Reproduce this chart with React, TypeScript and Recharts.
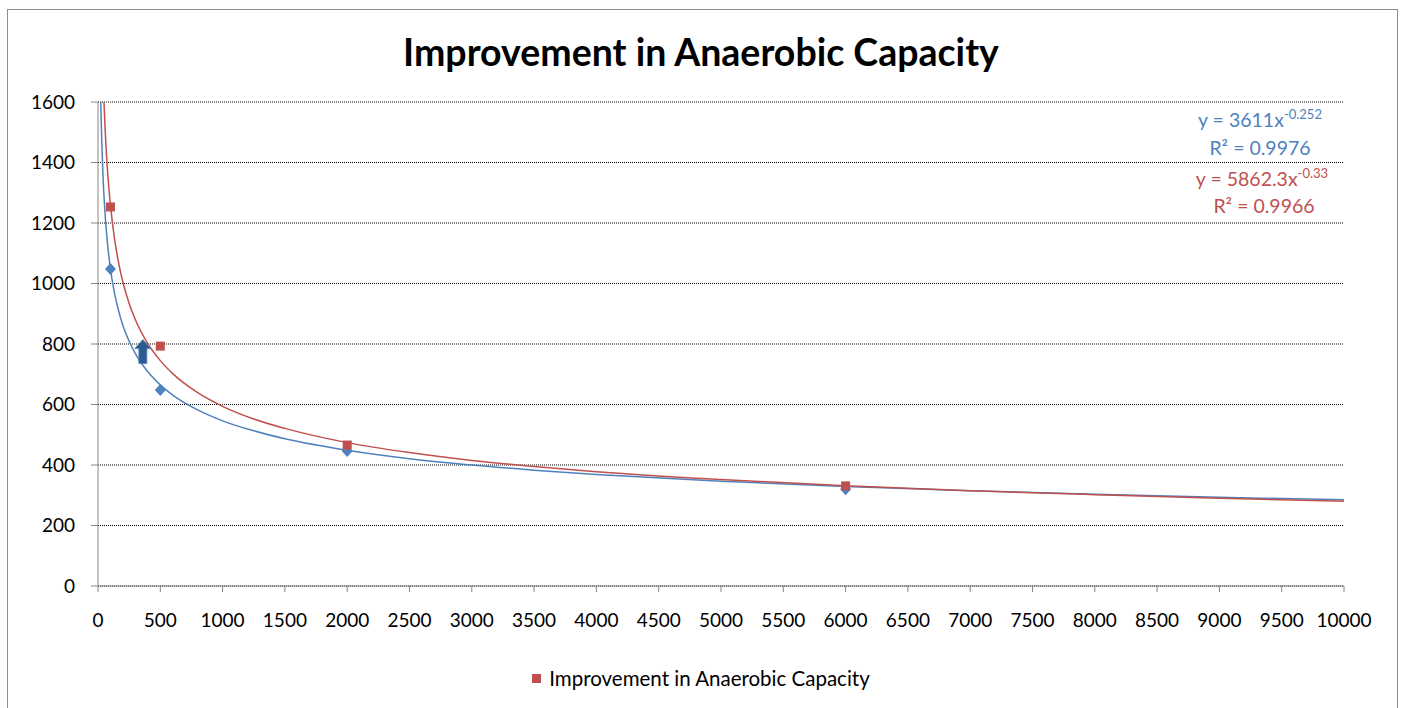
import React from "react";
import { ScatterChart, Scatter, XAxis, YAxis, CartesianGrid, Legend, Customized } from "recharts";

const xTicks = [0, 500, 1000, 1500, 2000, 2500, 3000, 3500, 4000, 4500, 5000, 5500, 6000, 6500, 7000, 7500, 8000, 8500, 9000, 9500, 10000];
const yTicks = [0, 200, 400, 600, 800, 1000, 1200, 1400, 1600];

// measured points
const blueX = [100, 500, 2000, 6000];
const blueY = [1048, 648, 446, 320];
const redX = [100, 500, 2000, 6000];
const redY = [1253, 793, 466, 331];
const arrowX = [360];
const arrowY = [775];

// trendlines
const blueFitX = [22, 25, 30, 40, 50, 60, 80, 100, 130, 160, 200, 250, 300, 400, 500, 600, 800, 1000, 1250, 1500, 2000, 2500, 3000, 3500, 4000, 5000, 6000, 7000, 8000, 9000, 10000];
const blueFitY = [1600, 1551, 1473, 1358, 1275, 1211, 1116, 1048, 973, 918, 861, 809, 768, 708, 665, 631, 582, 546, 513, 487, 449, 421, 400, 383, 369, 346, 329, 315, 303, 293, 285];
const redFitX = [48, 55, 65, 80, 100, 130, 160, 200, 250, 300, 400, 500, 600, 800, 1000, 1250, 1500, 2000, 2500, 3000, 3500, 4000, 5000, 6000, 7000, 8000, 9000, 10000];
const redFitY = [1600, 1530, 1448, 1353, 1259, 1155, 1080, 1004, 934, 880, 801, 745, 702, 639, 594, 552, 521, 474, 441, 415, 395, 378, 352, 331, 315, 302, 290, 280];

const BLUE = "#4f81bd";
const RED = "#c0504d";
const FONT = "Lato, 'Open Sans', sans-serif";

const pts = (xs: number[], ys: number[]) => xs.map((x, i) => ({ x, y: ys[i] }));

const Diamond = (p: any) => (
  <polygon points={`${p.cx},${p.cy - 6} ${p.cx + 5.5},${p.cy} ${p.cx},${p.cy + 6} ${p.cx - 5.5},${p.cy}`} fill={BLUE} />
);
const Square = (p: any) => <rect x={p.cx - 4.5} y={p.cy - 4.5} width={9} height={9} fill={RED} />;
const Arrow = (p: any) => {
  const { cx, cy } = p;
  const d = `M${cx},${cy - 12} L${cx + 8},${cy - 3} L${cx + 4},${cy - 3} L${cx + 4},${cy + 12} L${cx - 4},${cy + 12} L${cx - 4},${cy - 3} L${cx - 8},${cy - 3} Z`;
  return <path d={d} fill="#2e5b8f" stroke="#4f81bd" strokeWidth={0.8} />;
};
const NoDot = () => <g />;

const FitLabels = () => (
  <g fontFamily={FONT} fontSize={19.5} textAnchor="middle">
    <text x={1260} y={127} fill={BLUE}>
      y = 3611x<tspan dy={-8} fontSize={13}>-0.252</tspan>
    </text>
    <text x={1260} y={155} fill={BLUE}>R² = 0.9976</text>
    <text x={1262} y={186} fill={RED}>
      y = 5862.3x<tspan dy={-8} fontSize={13}>-0.33</tspan>
    </text>
    <text x={1264} y={213} fill={RED}>R² = 0.9966</text>
  </g>
);

const LegendBox = () => (
  <div style={{ display: "flex", justifyContent: "center", alignItems: "center", fontFamily: FONT, fontSize: 20.5, color: "#000" }}>
    <span style={{ width: 9, height: 9, background: RED, marginRight: 8, display: "inline-block" }} />
    <span>Improvement in Anaerobic Capacity</span>
  </div>
);

export default function App() {
  return (
    <div style={{ position: "absolute", left: 0, top: 0, width: 1402, height: 708, background: "#fff", overflow: "hidden" }}>
      <div style={{ position: "absolute", left: 7, top: 9, width: 1389, height: 720, border: "1px solid #8c8c8c" }} />
      <div style={{ position: "absolute", left: 0, top: 29, width: 1402, textAlign: "center", fontFamily: FONT, fontWeight: 700, fontSize: 37.5, color: "#000" }}>
        Improvement in Anaerobic Capacity
      </div>
      <ScatterChart width={1402} height={708} margin={{ top: 102, right: 58, bottom: 82, left: 0 }} style={{ position: "absolute", left: 0, top: 0 }}>
        <CartesianGrid vertical={false} stroke="#000" strokeDasharray="1 1" />
        <XAxis
          type="number"
          dataKey="x"
          domain={[0, 10000]}
          ticks={xTicks}
          interval={0}
          height={40}
          tickSize={6}
          tickMargin={22}
          axisLine={{ stroke: "#868686" }}
          tickLine={{ stroke: "#868686" }}
          tick={{ fill: "#000", fontSize: 19, fontFamily: FONT }}
        />
        <YAxis
          type="number"
          dataKey="y"
          domain={[0, 1600]}
          ticks={yTicks}
          interval={0}
          width={98}
          tickSize={7}
          tickMargin={16}
          axisLine={{ stroke: "#868686" }}
          tickLine={{ stroke: "#868686" }}
          tick={{ fill: "#000", fontSize: 19, fontFamily: FONT }}
        />
        <Scatter data={pts(blueFitX, blueFitY)} line={{ stroke: BLUE, strokeWidth: 1.5 }} lineJointType="monotoneX" shape={NoDot} legendType="none" isAnimationActive={false} />
        <Scatter data={pts(redFitX, redFitY)} line={{ stroke: RED, strokeWidth: 1.5 }} lineJointType="monotoneX" shape={NoDot} legendType="none" isAnimationActive={false} />
        <Scatter data={pts(blueX, blueY)} shape={Diamond} legendType="none" isAnimationActive={false} />
        <Scatter data={pts(arrowX, arrowY)} shape={Arrow} legendType="none" isAnimationActive={false} />
        <Scatter name="Improvement in Anaerobic Capacity" data={pts(redX, redY)} shape={Square} isAnimationActive={false} />
        <Legend layout="horizontal" verticalAlign="middle" align="center" wrapperStyle={{ top: 666, left: 0, width: 1402 }} content={LegendBox} />
        <Customized component={FitLabels} />
      </ScatterChart>
    </div>
  );
}
